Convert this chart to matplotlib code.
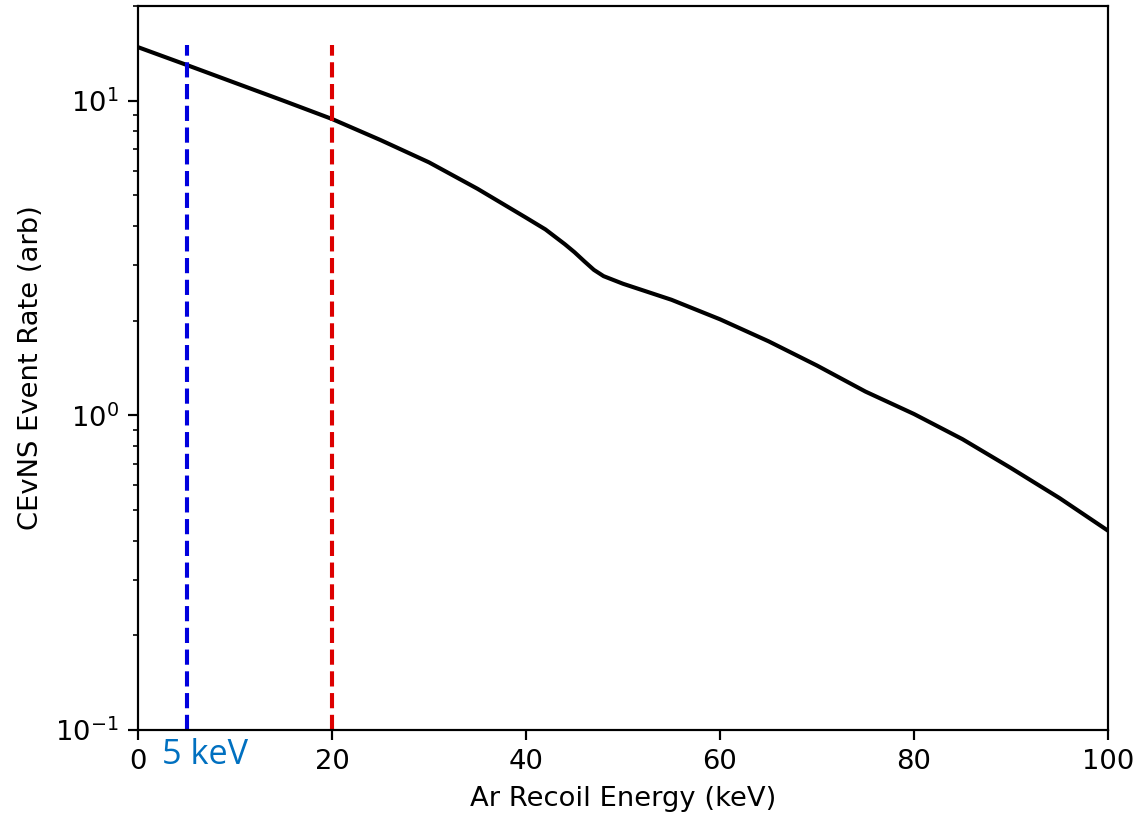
import matplotlib
matplotlib.use('Agg')
import numpy as np
import matplotlib.pyplot as plt
import matplotlib.transforms as mtransforms

# --- Dados ---
energy_kev = [0, 5, 10, 15, 20, 25, 30, 35, 40, 42, 44, 45, 46, 47, 48, 50,
              55, 60, 65, 70, 75, 80, 85, 90, 95, 100]
event_rate = [14.8, 13.0, 11.4, 10.0, 8.75, 7.5, 6.37, 5.25, 4.25, 3.9, 3.5,
              3.3, 3.09, 2.90, 2.77, 2.62, 2.33, 2.02, 1.72, 1.44, 1.19, 1.01,
              0.84, 0.68, 0.546, 0.43]
threshold_low = 5
threshold_high = 20
threshold_top = 15
x_ticks = [0, 20, 40, 60, 80, 100]

DPI = 197

# --- Figura ---
fig = plt.figure(figsize=(1135 / DPI, 814 / DPI), dpi=DPI)
ax = fig.add_axes([0.1216, 0.1032, 0.8546, 0.8894])

ax.plot(energy_kev, event_rate, color='black', linewidth=1.5)
ax.vlines(threshold_low, 0.1, threshold_top, colors='#0000dd', linestyles='dashed', linewidth=1.5)
ax.vlines(threshold_high, 0.1, threshold_top, colors='#dd0000', linestyles='dashed', linewidth=1.5)

ax.set_yscale('log')
ax.set_xlim(0, 100)
ax.set_ylim(0.1, 20)
ax.set_xticks(x_ticks)
ax.set_xlabel('Ar Recoil Energy (keV)')
ax.set_ylabel('CEvNS Event Rate (arb)')

# rótulo "5 keV" abaixo do eixo
trans = mtransforms.blended_transform_factory(ax.transData, ax.transAxes)
ax.text(2.5, -0.035, '5 keV', transform=trans, ha='left', va='center',
        fontsize=12.5, color='#0070C0', family='Open Sans')

fig.savefig('out.png', dpi=DPI)
